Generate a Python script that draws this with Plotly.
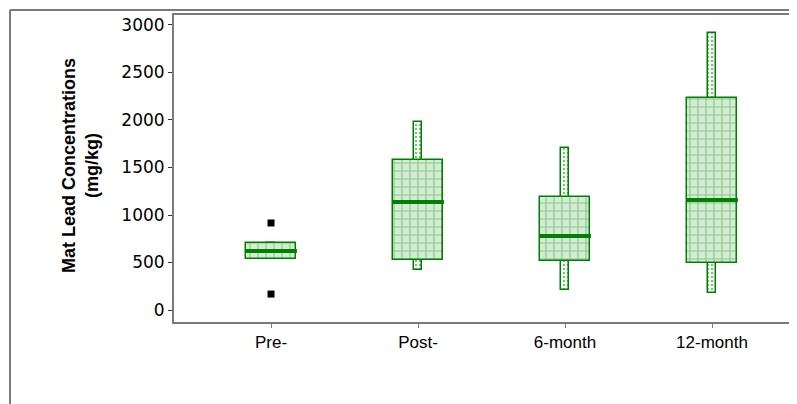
import plotly.graph_objects as go

categories = ["Pre-", "Post-", "6-month", "12-month"]
q1 = [537, 526, 516, 495]
median = [621, 1137, 779, 1158]
q3 = [705, 1579, 1189, 2232]
whisker_low = [537, 421, 210, 179]
whisker_high = [705, 1979, 1705, 2916]
outlier_cat = ["Pre-", "Pre-"]
outlier_val = [916, 168]
y_ticks = [0, 500, 1000, 1500, 2000, 2500, 3000]

idx = {c: i for i, c in enumerate(categories)}
xs = [idx[c] for c in categories]
GREEN = "#008000"

fig = go.Figure()

# whiskers drawn as narrow dotted boxes
fig.add_trace(go.Bar(
    x=xs, base=whisker_low,
    y=[h - l for h, l in zip(whisker_high, whisker_low)],
    width=0.055,
    marker=dict(color="white",
                line=dict(color=GREEN, width=1.5),
                pattern=dict(shape=".", fgcolor=GREEN, bgcolor="white", size=4, solidity=0.35)),
    hoverinfo="skip", showlegend=False,
))

# interquartile boxes
fig.add_trace(go.Bar(
    x=xs, base=q1,
    y=[b - a for a, b in zip(q1, q3)],
    width=0.34,
    marker=dict(color="#d4ecd4",
                line=dict(color=GREEN, width=1.5),
                pattern=dict(shape="+", fgcolor="#3a9e3a", bgcolor="#d4ecd4", size=8, solidity=0.25)),
    hoverinfo="skip", showlegend=False,
))

# medians
fig.add_trace(go.Scatter(
    x=xs, y=median, mode="markers",
    marker=dict(symbol="line-ew", size=37, line=dict(color=GREEN, width=4)),
    hoverinfo="skip", showlegend=False,
))

# outliers
fig.add_trace(go.Scatter(
    x=[idx[c] for c in outlier_cat], y=outlier_val, mode="markers",
    marker=dict(symbol="square", size=7, color="black"),
    hoverinfo="skip", showlegend=False,
))

L, T, B = 166, 7, 82
W, H = 789, 396
PW, PH = W - L, H - T - B

fig.update_layout(
    width=W, height=H,
    margin=dict(l=L, r=0, t=T, b=B),
    paper_bgcolor="white", plot_bgcolor="white",
    barmode="overlay", bargap=0,
    font=dict(family="Liberation Sans, Arial, sans-serif", size=17, color="black"),
    xaxis=dict(
        range=[-0.66, 3.578],
        tickmode="array", tickvals=xs, ticktext=categories,
        showgrid=False, zeroline=False,
        showline=True, linecolor="#7a7a7a", linewidth=2, mirror=True,
        ticks="outside", ticklen=4, tickcolor="#7a7a7a", tickwidth=1,
        tickfont=dict(size=17),
    ),
    yaxis=dict(
        range=[-126, 3105],
        tickmode="array", tickvals=y_ticks,
        showgrid=False, zeroline=False,
        showline=True, linecolor="#7a7a7a", linewidth=2,
        ticks="outside", ticklen=4, tickcolor="#333333", tickwidth=1,
        tickfont=dict(family="DejaVu Sans", size=17),
    ),
    annotations=[dict(
        text="<b>Mat Lead Concentrations<br>(mg/kg)</b>",
        xref="paper", yref="paper",
        x=(72 - L) / PW, y=0.508,
        xanchor="center", yanchor="middle",
        textangle=-90, showarrow=False,
        font=dict(size=18, color="black"),
    )],
    shapes=[
        dict(type="line", xref="paper", yref="paper",
             x0=(2 - L) / PW, x1=1.01, y0=(H - B - 2) / PH, y1=(H - B - 2) / PH,
             line=dict(color="#7a7a7a", width=2)),
        dict(type="line", xref="paper", yref="paper",
             x0=(2 - L) / PW, x1=(2 - L) / PW, y0=(H - B - 2) / PH, y1=-(B + 5) / PH,
             line=dict(color="#7a7a7a", width=2)),
    ],
)

fig.write_html("out.html")
